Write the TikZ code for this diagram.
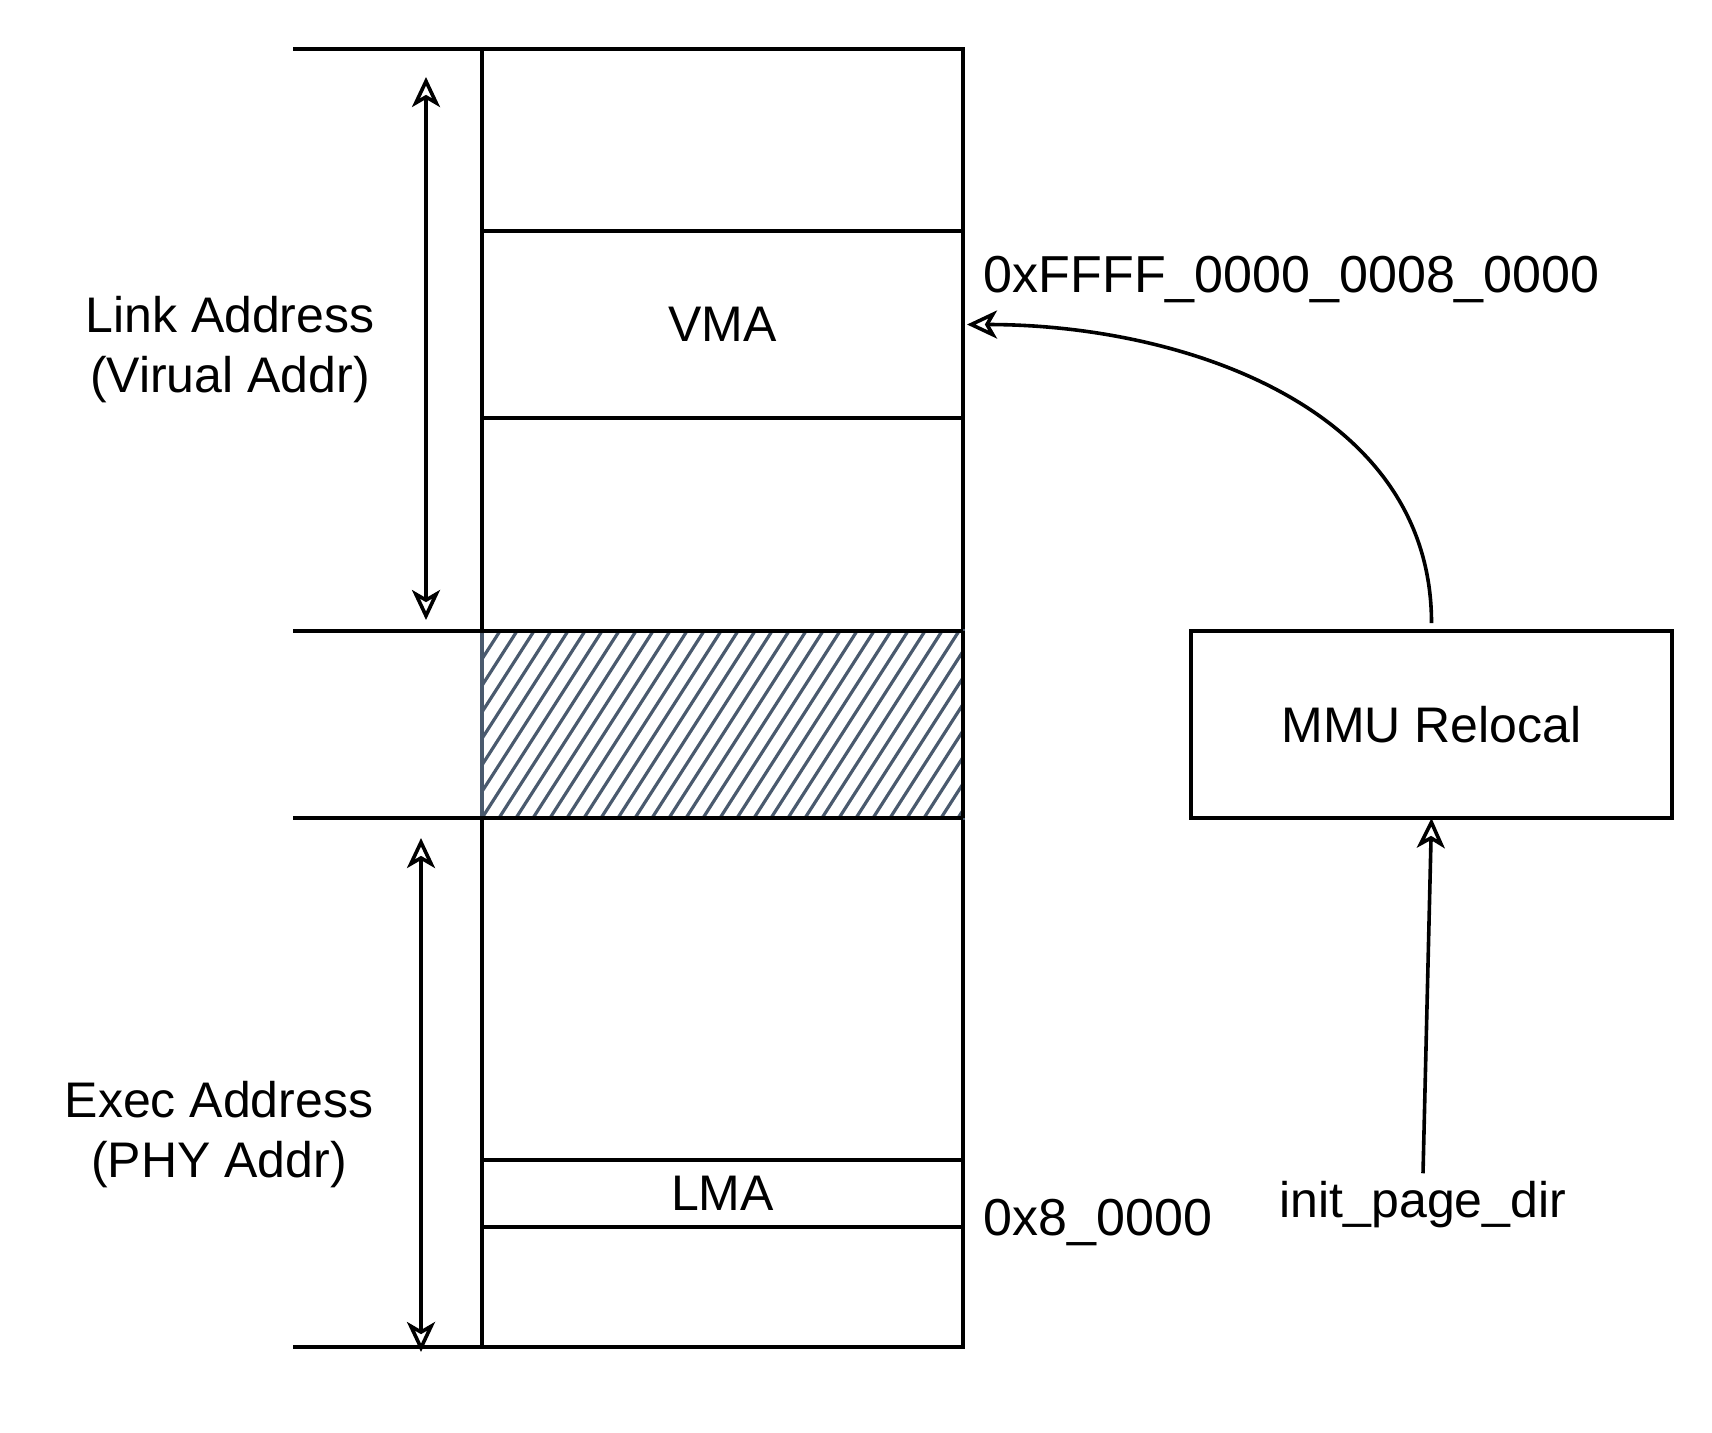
\documentclass[tikz,border=0pt]{standalone}
\usepackage{fontspec}
\setmainfont{Liberation Sans}
\usepackage{tikz}
\usetikzlibrary{arrows.meta,positioning,calc}
\definecolor{hatchgray}{HTML}{4A5A6E}
\tikzset{
region/.style = {draw, line width=1.8pt, rectangle, inner sep=0pt, outer sep=0pt, minimum width=240.5pt},
slab/.style = {region, minimum height=93.5pt},
label/.style = {align=center, font=\fontsize{25}{30}\selectfont},
addr/.style = {anchor=west, inner sep=0pt, font=\fontsize{26}{30}\selectfont},
hatchline/.style = {hatchgray, line width=1.6pt},
}

\begin{document}
\begin{tikzpicture}[x=0.5pt, y=-0.5pt, line width=1.8pt,
  >={Stealth[open, length=15pt, width=14pt, inset=4pt]}]
      \useasboundingbox (0,0) rectangle (1712,1432);
      \node [region, minimum height=649pt] (mem) at (722.5,698) {};
      \node [slab, label] (vma) at (722.5,324.5) {VMA};
      \node [slab, draw=hatchgray, path picture={
         \foreach \i in {-136,-119,...,490}
            \draw [hatchline] ($(path picture bounding box.south west)+(\i,0)$) -- ++(120,-187);
         }] (hatch) at (722.5,724.5) {};
      \node [region, label, minimum height=33.5pt] (lma) at (722.5,1193.5) {LMA};
      \draw (hatch.north east) -- (hatch.south east);
      \draw (mem.north west) -- ++(-189,0);
      \draw (hatch.north west) -- ++(-189,0) (hatch.north west) -- (hatch.north east);
      \draw (hatch.south west) -- ++(-189,0) (hatch.south west) -- (hatch.south east);
      \draw (mem.south west) -- ++(-189,0);
      \node [label] (link) at (230,350) {Link Address\\(Virual Addr)};
      \node [label] (exec) at (219,1135) {Exec Address\\(PHY Addr)};
      \coordinate (linktop) at (426,77);
      \coordinate (linkbot) at (426,620);
      \coordinate (exectop) at (421,838);
      \coordinate (execbot) at (421,1352);
      \draw [<->] (linkbot) -- (linktop);
      \draw [<->] (exectop) -- (execbot);
      \node [addr] (vmaaddr) at (982,279) {0xFFFF\_0000\_0008\_0000};
      \node [addr] (lmaaddr) at (982,1222) {0x8\_0000};
      \node [slab, label] (mmu) at (1431.5,724.5) {MMU Relocal};
      \node [label] (initdir) at (1423,1205) {init\_page\_dir};
      \draw [->] (initdir.north) -- (mmu.south);
      \draw [->] ([yshift=4pt]mmu.north) to [out=90, in=0] ([xshift=2pt]vma.east);
\end{tikzpicture}
\end{document}
